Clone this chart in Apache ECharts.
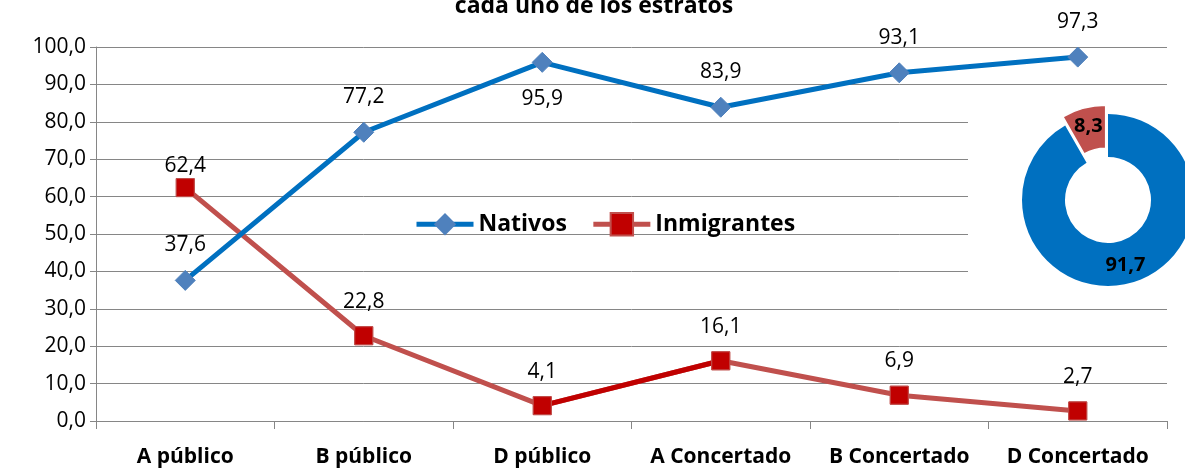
<!DOCTYPE html>
<html><head><meta charset="utf-8">
<script src="https://cdn.jsdelivr.net/npm/echarts@6/dist/echarts.min.js"></script>
<style>html,body{margin:0;padding:0;background:#fff}#c{width:1185px;height:472px}</style>
</head><body><div id="c"></div>
<script>
const titleText = 'cada uno de los estratos';
const categories = ['A público','B público','D público','A Concertado','B Concertado','D Concertado'];
const nativos = [37.6, 77.2, 95.9, 83.9, 93.1, 97.3];
const inmigrantes = [62.4, 22.8, 4.1, 16.1, 6.9, 2.7];
const pieNames = ['Nativos','Inmigrantes'];
const pieValues = [91.7, 8.3];
const yTicks = [0,10,20,30,40,50,60,70,80,90,100];

const fmt = v => Number(v).toFixed(1).replace('.', ',');
const FONT = '"Open Sans", sans-serif';

// darker red segment D público -> A Concertado
const darkSeg = inmigrantes.map((v,i)=> (i===2||i===3)? v : null);

const chart = echarts.init(document.getElementById('c'));
chart.setOption({
  animation:false,
  backgroundColor:'#fff',
  title:{text:titleText,left:589,textAlign:'center',top:-10,
    textStyle:{fontFamily:FONT,fontWeight:'bold',fontSize:23,color:'#000'}},
  grid:{left:96,right:18,top:47,bottom:51},
  legend:{data:[
      {name:'Nativos',lineStyle:{color:'#0070C0',width:5}},
      {name:'Inmigrantes',lineStyle:{color:'#C0504D',width:5}}],
    left:409,top:207,itemWidth:57,itemHeight:28,itemGap:24,
    textStyle:{fontFamily:FONT,fontWeight:'bold',fontSize:23,color:'#000'}},
  xAxis:{type:'category',data:categories,boundaryGap:true,
    axisLine:{lineStyle:{color:'#868686',width:1}},
    axisTick:{show:true,length:8,lineStyle:{color:'#868686'}},
    axisLabel:{fontFamily:FONT,fontWeight:'bold',fontSize:21,color:'#000',margin:26,interval:0}},
  yAxis:{type:'value',min:0,max:100,interval:10,
    axisLine:{show:true,lineStyle:{color:'#868686',width:1}},
    axisTick:{show:true,length:6,lineStyle:{color:'#868686'}},
    splitLine:{lineStyle:{color:'#868686',width:1}},
    axisLabel:{fontFamily:FONT,fontSize:21,color:'#000',margin:10,formatter:v=>yTicks.includes(v)?fmt(v):''}},
  graphic:[{type:'rect',shape:{x:968,y:106,width:217,height:188},style:{fill:'#fff'},z:1,silent:true}],
  series:[
    {name:'Nativos',type:'line',data:nativos.map((v,i)=>({value:v,label: i===2?{position:'bottom',distance:16}:{}})),
      z:5,
      lineStyle:{color:'#0070C0',width:5},
      itemStyle:{color:'#4F81BD',borderColor:'#4F81BD'},
      symbol:'diamond',symbolSize:[20,20],
      label:{show:true,position:'top',distance:14,fontFamily:FONT,fontSize:21,color:'#000',formatter:p=>fmt(p.value)}},
    {name:'Inmigrantes',type:'line',data:inmigrantes.map((v,i)=>({value:v,label: i===0?{distance:2}:{}})),
      z:4,
      lineStyle:{color:'#C0504D',width:5},
      itemStyle:{color:'#C00000',borderColor:'#C0504D',borderWidth:1},
      symbol:'rect',symbolSize:[18,18],
      label:{show:true,position:'top',distance:14,fontFamily:FONT,fontSize:21,color:'#000',formatter:p=>fmt(p.value)}},
    {name:'seg',type:'line',data:darkSeg,z:4,symbol:'none',
      lineStyle:{color:'#C00000',width:5},silent:true},
    {name:'Inmigrantes',type:'line',data:inmigrantes,z:4.5,
      lineStyle:{width:0,opacity:0},itemStyle:{color:'#C00000',borderColor:'#C0504D',borderWidth:1},
      symbol:'rect',symbolSize:[18,18],label:{show:false},silent:true},
    {name:'pie',type:'pie',center:[1108,200],radius:[43,86],startAngle:90,clockwise:true,z:6,
      selectedMode:'single',selectedOffset:9,avoidLabelOverlap:false,
      data:pieNames.map((n,i)=>({name:n,value:pieValues[i],selected:i===1,
        itemStyle:{color:i===0?'#0070C0':'#C0504D',borderColor:'#fff',borderWidth:i===1?1.5:0}})),
      label:{show:true,position:'inside',fontFamily:FONT,fontWeight:'bold',fontSize:20,color:'#000',
        formatter:p=>fmt(p.value)},
      labelLine:{show:false}}
  ]
});
</script></body></html>
